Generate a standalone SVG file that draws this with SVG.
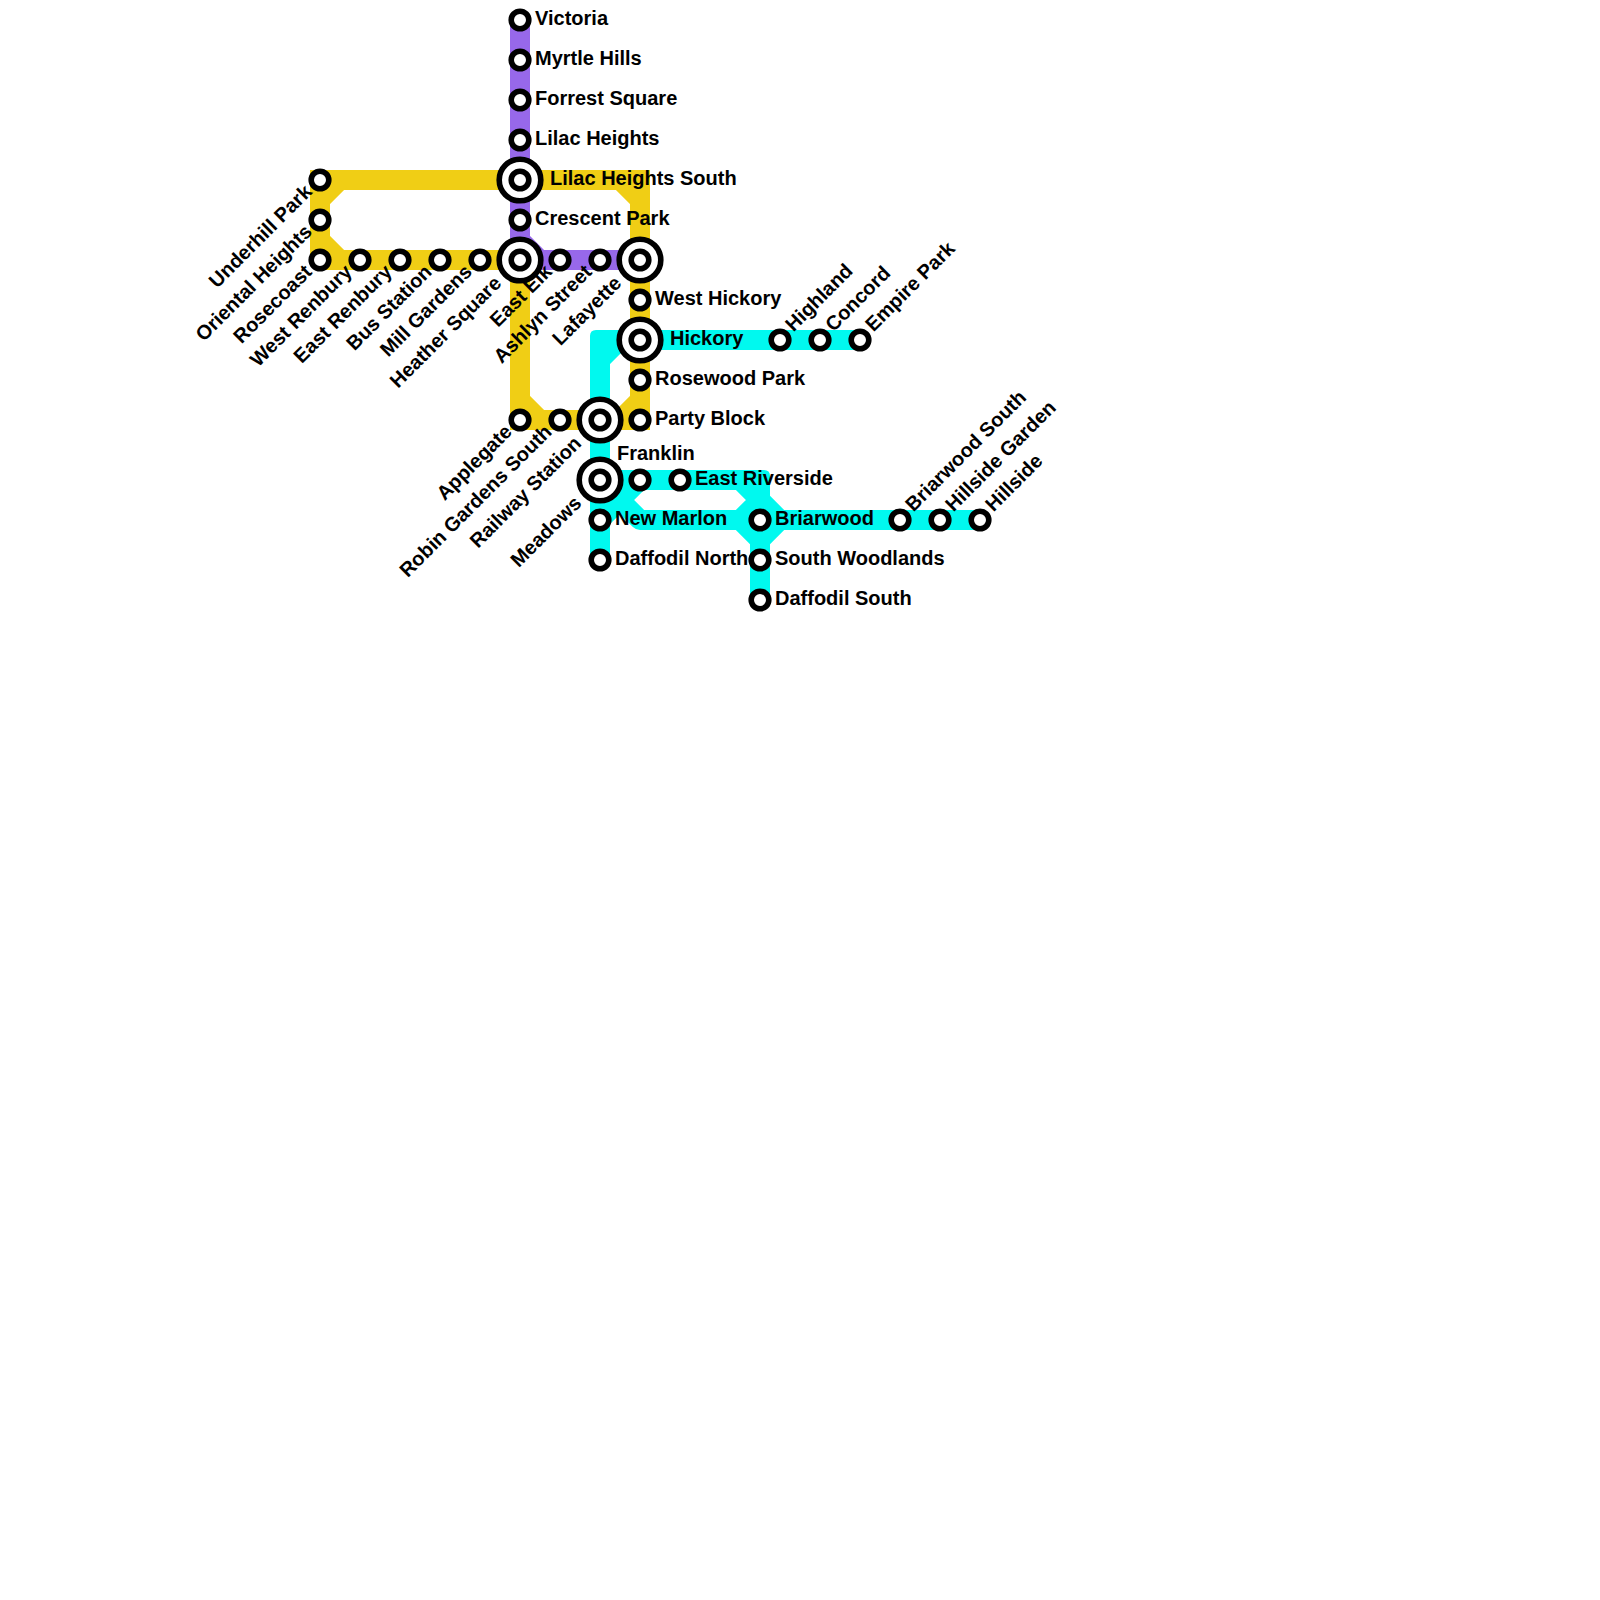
<svg xmlns="http://www.w3.org/2000/svg" width="1600" height="1600" viewBox="0 0 1600 1600">
<style>
text{font-family:"Liberation Sans",Arial,sans-serif;font-weight:700;font-size:20px;fill:#000}
.l{fill:none;stroke-width:20;stroke-linejoin:miter;stroke-linecap:butt}
.y{stroke:#f0ce15}.p{stroke:#9768ea}.c{stroke:#00f9ef}
.f{fill:#00f9ef}
.r{stroke-linejoin:round}
.s{fill:#fff;stroke:#000;stroke-width:5.6}
.o{fill:#fff;stroke:#000;stroke-width:5.6}
.ur{text-anchor:start}.dl{text-anchor:end}
</style>
<rect width="1600" height="1600" fill="#fff"/>
<g id="connectors">
<path class="l p" d="M520 20V260H640"/>
<path class="l p" d="M520 240L540 260"/>
<path class="l y" d="M320 260V180H640V420H520V260M320 260H520"/>
<path class="l y" d="M320 200L340 180M320 240L340 260M620 180L640 200M520 400L540 420M640 400L620 420"/>
<path class="f" d="M860 330H596Q590 330 590 336V560H610V350H860Z"/>
<path class="l c" d="M600 360L620 340"/>
<path class="f" d="M600 470H764Q770 470 770 476V600H750V490H600Z"/>
<path class="l c r" d="M600 480L640 520H980"/>
<path class="l c" d="M640 480L600 520M740 480L780 520L760 540L740 520L760 500"/>
</g>
<g id="n-victoria"><circle class="s" cx="520" cy="20" r="8.8"/><text x="535" y="25">Victoria</text></g>
<g id="n-myrtle-hills"><circle class="s" cx="520" cy="60" r="8.8"/><text x="535" y="65">Myrtle Hills</text></g>
<g id="n-forrest-square"><circle class="s" cx="520" cy="100" r="8.8"/><text x="535" y="105">Forrest Square</text></g>
<g id="n-lilac-heights"><circle class="s" cx="520" cy="140" r="8.8"/><text x="535" y="145">Lilac Heights</text></g>
<g id="n-lilac-heights-south"><circle class="o" cx="520" cy="180" r="20.8"/><circle class="s" cx="520" cy="180" r="8.8"/><text x="550" y="185">Lilac Heights South</text></g>
<g id="n-crescent-park"><circle class="s" cx="520" cy="220" r="8.8"/><text x="535" y="225">Crescent Park</text></g>
<g id="n-heather-square"><circle class="o" cx="520" cy="260" r="20.8"/><circle class="s" cx="520" cy="260" r="8.8"/><text class="dl" transform="translate(502.5 284.5) rotate(-45)">Heather Square</text></g>
<g id="n-underhill-park"><circle class="s" cx="320" cy="180" r="8.8"/><text class="dl" transform="translate(313 193) rotate(-45)">Underhill Park</text></g>
<g id="n-oriental-heights"><circle class="s" cx="320" cy="220" r="8.8"/><text class="dl" transform="translate(313 233) rotate(-45)">Oriental Heights</text></g>
<g id="n-rosecoast"><circle class="s" cx="320" cy="260" r="8.8"/><text class="dl" transform="translate(313 273) rotate(-45)">Rosecoast</text></g>
<g id="n-west-renbury"><circle class="s" cx="360" cy="260" r="8.8"/><text class="dl" transform="translate(353 273) rotate(-45)">West Renbury</text></g>
<g id="n-east-renbury"><circle class="s" cx="400" cy="260" r="8.8"/><text class="dl" transform="translate(393 273) rotate(-45)">East Renbury</text></g>
<g id="n-bus-station"><circle class="s" cx="440" cy="260" r="8.8"/><text class="dl" transform="translate(433 273) rotate(-45)">Bus Station</text></g>
<g id="n-mill-gardens"><circle class="s" cx="480" cy="260" r="8.8"/><text class="dl" transform="translate(473 273) rotate(-45)">Mill Gardens</text></g>
<g id="n-east-elk"><circle class="s" cx="560" cy="260" r="8.8"/><text class="dl" transform="translate(553 273) rotate(-45)">East Elk</text></g>
<g id="n-ashlyn-street"><circle class="s" cx="600" cy="260" r="8.8"/><text class="dl" transform="translate(593 273) rotate(-45)">Ashlyn Street</text></g>
<g id="n-lafayette"><circle class="o" cx="640" cy="260" r="20.8"/><circle class="s" cx="640" cy="260" r="8.8"/><text class="dl" transform="translate(622.5 284.5) rotate(-45)">Lafayette</text></g>
<g id="n-west-hickory"><circle class="s" cx="640" cy="300" r="8.8"/><text x="655" y="305">West Hickory</text></g>
<g id="n-hickory"><circle class="o" cx="640" cy="340" r="20.8"/><circle class="s" cx="640" cy="340" r="8.8"/><text x="670" y="345">Hickory</text></g>
<g id="n-rosewood-park"><circle class="s" cx="640" cy="380" r="8.8"/><text x="655" y="385">Rosewood Park</text></g>
<g id="n-party-block"><circle class="s" cx="640" cy="420" r="8.8"/><text x="655" y="425">Party Block</text></g>
<g id="n-applegate"><circle class="s" cx="520" cy="420" r="8.8"/><text class="dl" transform="translate(513 433) rotate(-45)">Applegate</text></g>
<g id="n-robin-gardens-south"><circle class="s" cx="560" cy="420" r="8.8"/><text class="dl" transform="translate(553 433) rotate(-45)">Robin Gardens South</text></g>
<g id="n-railway-station"><circle class="o" cx="600" cy="420" r="20.8"/><circle class="s" cx="600" cy="420" r="8.8"/><text class="dl" transform="translate(582.5 444.5) rotate(-45)">Railway Station</text></g>
<g id="n-meadows"><circle class="o" cx="600" cy="480" r="20.8"/><circle class="s" cx="600" cy="480" r="8.8"/><text class="dl" transform="translate(582.5 504.5) rotate(-45)">Meadows</text></g>
<g id="n-new-marlon"><circle class="s" cx="600" cy="520" r="8.8"/><text x="615" y="525">New Marlon</text></g>
<g id="n-daffodil-north"><circle class="s" cx="600" cy="560" r="8.8"/><text x="615" y="565">Daffodil North</text></g>
<g id="n-franklin"><circle class="s" cx="640" cy="480" r="8.8"/><text x="617" y="460">Franklin</text></g>
<g id="n-east-riverside"><circle class="s" cx="680" cy="480" r="8.8"/><text x="695" y="485">East Riverside</text></g>
<g id="n-briarwood"><circle class="s" cx="760" cy="520" r="8.8"/><text x="775" y="525">Briarwood</text></g>
<g id="n-south-woodlands"><circle class="s" cx="760" cy="560" r="8.8"/><text x="775" y="565">South Woodlands</text></g>
<g id="n-daffodil-south"><circle class="s" cx="760" cy="600" r="8.8"/><text x="775" y="605">Daffodil South</text></g>
<g id="n-highland"><circle class="s" cx="780" cy="340" r="8.8"/><text class="ur" transform="translate(793.5 332.5) rotate(-45)">Highland</text></g>
<g id="n-concord"><circle class="s" cx="820" cy="340" r="8.8"/><text class="ur" transform="translate(833.5 332.5) rotate(-45)">Concord</text></g>
<g id="n-empire-park"><circle class="s" cx="860" cy="340" r="8.8"/><text class="ur" transform="translate(873.5 332.5) rotate(-45)">Empire Park</text></g>
<g id="n-briarwood-south"><circle class="s" cx="900" cy="520" r="8.8"/><text class="ur" transform="translate(913.5 512.5) rotate(-45)">Briarwood South</text></g>
<g id="n-hillside-garden"><circle class="s" cx="940" cy="520" r="8.8"/><text class="ur" transform="translate(953.5 512.5) rotate(-45)">Hillside Garden</text></g>
<g id="n-hillside"><circle class="s" cx="980" cy="520" r="8.8"/><text class="ur" transform="translate(993.5 512.5) rotate(-45)">Hillside</text></g>
</svg>
